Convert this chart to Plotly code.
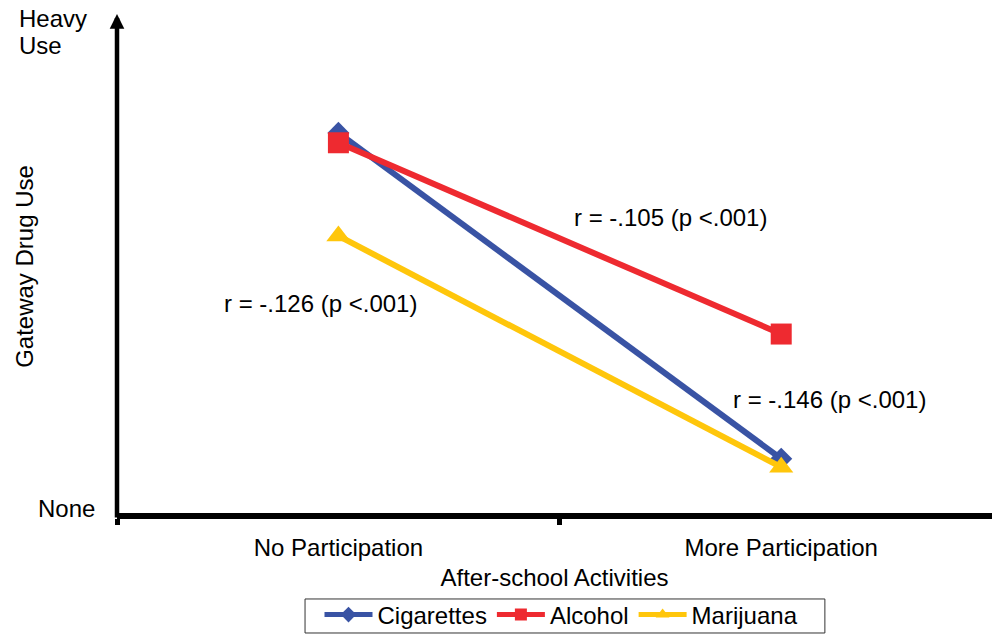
import plotly.graph_objects as go

# categories (after-school activities)
categories = ["No Participation", "More Participation"]

# gateway drug use, 0 = None, 100 = Heavy Use
cigarettes = [77.1, 11.0]
alcohol = [75.1, 36.3]
marijuana = [56.2, 9.3]

fnt = "Liberation Sans, Arial, sans-serif"
fs = 24

fig = go.Figure()
fig.add_trace(go.Scatter(x=categories, y=cigarettes, name="Cigarettes", mode="lines+markers",
                         line=dict(color="#3953A4", width=6),
                         marker=dict(symbol="diamond", size=17, color="#3953A4")))
fig.add_trace(go.Scatter(x=categories, y=alcohol, name="Alcohol", mode="lines+markers",
                         line=dict(color="#EE2A30", width=6),
                         marker=dict(symbol="square", size=21, color="#EE2A30")))
fig.add_trace(go.Scatter(x=categories, y=marijuana, name="Marijuana", mode="lines+markers",
                         line=dict(color="#FFC60B", width=6),
                         marker=dict(symbol="triangle-up", size=21, color="#FFC60B")))

# correlation labels
notes = [
    (0.75, 60.0, "r = -.105 (p <.001)"),
    (-0.04, 42.5, "r = -.126 (p <.001)"),
    (1.11, 23.0, "r = -.146 (p <.001)"),
]
for xv, yv, t in notes:
    fig.add_annotation(x=xv, y=yv, xref="x", yref="y", text=t, showarrow=False,
                       font=dict(size=fs, color="black", family=fnt))

# y axis drawn as an arrow
fig.add_annotation(x=0, y=1.012, xref="paper", yref="paper", ax=0, ay=505,
                   axref="pixel", ayref="pixel", text="", showarrow=True,
                   arrowhead=2, arrowsize=0.65, arrowwidth=4.5, arrowcolor="black", standoff=0)

# y labels
fig.add_annotation(x=0, y=1.0, xref="paper", yref="paper", text="Heavy",
                   showarrow=False, xanchor="left", yanchor="middle",
                   xshift=-100, yshift=2, font=dict(size=fs, color="black", family=fnt))
fig.add_annotation(x=0, y=1.0, xref="paper", yref="paper", text="Use",
                   showarrow=False, xanchor="left", yanchor="middle",
                   xshift=-100, yshift=-25, font=dict(size=fs, color="black", family=fnt))
fig.add_annotation(x=0, y=0, xref="paper", yref="paper", text="None", showarrow=False,
                   xanchor="right", yanchor="middle", xshift=-20, yshift=5,
                   font=dict(size=fs, color="black", family=fnt))

# legend frame
fig.add_shape(type="rect", xref="paper", yref="paper", x0=0.2149, x1=0.809,
              y0=-0.2434, y1=-0.1744, line=dict(color="#333333", width=1))

fig.update_xaxes(type="category", range=[-0.5, 1.476], showline=True, linecolor="black",
                 linewidth=6, ticks="outside", tickson="boundaries", ticklen=6, tickwidth=5,
                 tickcolor="black", showgrid=False, zeroline=False, ticklabelstandoff=8,
                 tickfont=dict(size=fs, color="black", family=fnt),
                 title=dict(text="After-school Activities", standoff=11,
                            font=dict(size=fs, color="black", family=fnt)))
fig.update_yaxes(range=[0, 100], showline=False, showgrid=False, zeroline=False,
                 showticklabels=False,
                 title=dict(text="Gateway Drug Use", standoff=75,
                            font=dict(size=fs, color="black", family=fnt)))

fig.update_layout(
    width=992, height=634,
    margin=dict(l=117, r=0, t=20, b=121, autoexpand=False),
    plot_bgcolor="white", paper_bgcolor="white",
    font=dict(family=fnt, size=fs, color="black"),
    legend=dict(orientation="h", x=0.508, xanchor="center", y=-0.2069, yanchor="middle",
                bgcolor="rgba(0,0,0,0)", borderwidth=0, font=dict(size=fs),
                itemwidth=48, itemsizing="constant", tracegroupgap=0),
    showlegend=True,
)

fig.write_html("out.html", config={"displayModeBar": False},
               post_script="document.body.style.margin='0';")
